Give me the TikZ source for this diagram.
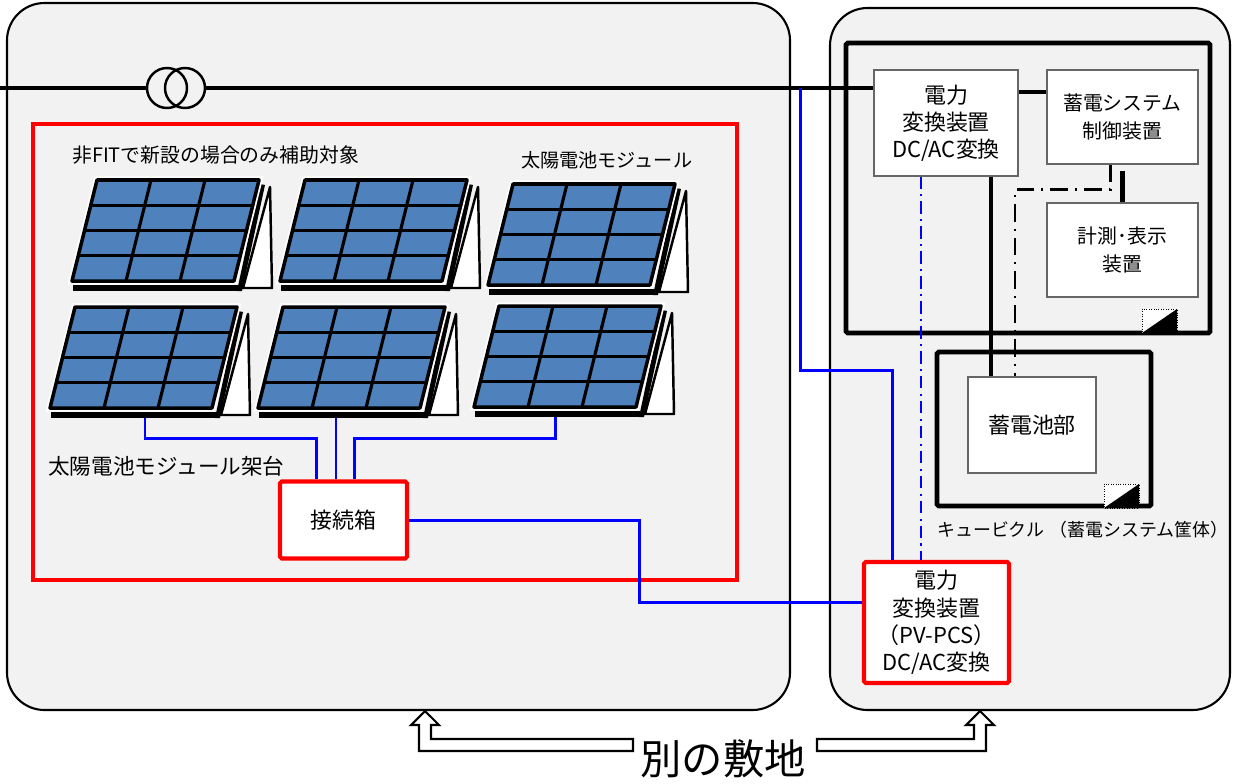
\documentclass[tikz,border=0pt]{standalone}
\usepackage{fontspec}
\setmainfont{Noto Sans CJK JP}
\usetikzlibrary{positioning,calc}
\definecolor{sitegray}{HTML}{F2F2F2}
\definecolor{cellblue}{HTML}{4F81BD}
\definecolor{wirered}{HTML}{FF0000}
\definecolor{wireblue}{HTML}{0000FF}

\tikzset{
  pvpanel/.pic={
    % frame edge and leg
    \fill (1,4) -- (166,4) -- (166,10) -- (1,10) -- cycle;
    \fill (188,-97) -- (193,-96) -- (170,10) -- (165,10) -- cycle;
    \draw[fill=white,line width=1.4pt,line join=round] (198,-94) -- (200,7) -- (171,7) -- cycle;
    % module face, 3x4 cells
    \draw[white,line width=4pt] (0,0) -- (25,-101) -- (187,-101) -- (162,0) -- cycle;
    \draw[fill=cellblue,line width=2pt,line join=round] (0,0) -- (25,-101) -- (187,-101) -- (162,0) -- cycle;
    \foreach \i in {1,2,3} \draw[line width=1.8pt] (6.25*\i,-25.25*\i) -- ++(162,0);
    \foreach \i in {1,2} \draw[line width=1.8pt] (54*\i,0) -- ++(25,-101);
  },
  site/.style={draw,fill=sitegray,line width=1.2pt,rounded corners=7.5mm},
  cubicle/.style={draw,line width=2.8pt,rounded corners=1pt},
  unitbox/.style={draw=black!60,fill=white,line width=0.6pt,align=center},
  redbox/.style={draw=wirered,fill=white,line width=2.3pt,rounded corners=1pt,align=center},
  bigtext/.style={font=\fontsize{12.5}{15.5}\selectfont},
  powerline/.style={line width=1.8pt},
  busline/.style={line width=2.6pt},
  dcline/.style={wireblue,line width=1.7pt},
  signal/.style={wireblue,line width=1.4pt,dash pattern=on 7pt off 3pt on 1.2pt off 3pt},
  ctrlline/.style={line width=1.4pt,dash pattern=on 10pt off 4pt on 1.2pt off 4pt},
  hollow/.style={draw,fill=white,line width=1.2pt,line join=miter}
}

\begin{document}
\begin{tikzpicture}[x=0.2mm,y=-0.2mm,every node/.style={font=\fontsize{11.3}{15.4}\selectfont}]
\useasboundingbox (0,0) rectangle (1239,783);

% two sites
\draw[site] (7,3) rectangle (790,710);
\draw[site] (830,8) rectangle (1230,710);

% PV area
\draw[wirered,line width=2.3pt] (33,124) rectangle (737,580);
\node[anchor=west] (subsidy) at (66,155) {非FITで新設の場合のみ補助対象};
\node[anchor=west,font=\fontsize{10.9}{14}\selectfont] (modlbl) at (515,160) {太陽電池モジュール};
\node[anchor=west,font=\fontsize{12.3}{14}\selectfont] (mountlbl) at (42,466) {太陽電池モジュール架台};

\pic at (72,281) {pvpanel};
\pic at (280,281) {pvpanel};
\pic at (488,285) {pvpanel};
\pic at (50,408) {pvpanel};
\pic at (258,408) {pvpanel};
\pic at (474,407) {pvpanel};

\node[redbox,bigtext,minimum width=25.4mm,minimum height=15.4mm] (jbox) at (343.5,520) {接続箱};
\coordinate (out4) at (145,418);
\coordinate (out5) at (336,418);
\coordinate (out6) at (555,417);
\draw[dcline] (out4) |- ($(jbox.north)+(-27,-41)$) -- ($(jbox.north)+(-27,0)$);
\draw[dcline] (out5) -- (out5 |- jbox.north);
\draw[dcline] (out6) |- ($(jbox.north)+(11,-41)$) -- ($(jbox.north)+(11,0)$);

% storage cubicle
\draw[cubicle] (846,43) rectangle (1210,333);
\draw[cubicle] (937,352) rectangle (1151,506);
\foreach \mx/\my in {1142/309,1104/484} {
  \draw[densely dotted,fill=white,line width=0.4pt] (\mx,\my) rectangle ++(35,24);
  \fill (\mx,\my+24) -- ++(35,0) -- ++(0,-24) -- cycle;
}
\node[anchor=west,font=\fontsize{10.2}{14}\selectfont] (cublbl) at (931,530) {キュービクル\hspace{0.3em}（蓄電システム筐体）};

\node[unitbox,bigtext,minimum width=28.8mm,minimum height=21.2mm] (conv) at (946,123) {電力\\変換装置\\DC/AC変換};
\node[unitbox,minimum width=30.2mm,minimum height=18.8mm] (ctrl) at (1122.5,117) {蓄電システム\\制御装置};
\node[unitbox,minimum width=30.2mm,minimum height=18.8mm] (meas) at (1122.5,250) {計測･表示\\装置};
\node[unitbox,bigtext,minimum width=25.6mm,minimum height=19.2mm] (batt) at (1032,425) {蓄電池部};
\node[redbox,bigtext,minimum width=29mm,minimum height=24.2mm] (pcs) at (936.5,622.5) {電力\\変換装置\\（PV-PCS）\\DC/AC変換};

\draw[busline] ($(conv.east)+(0,-31)$) -- ($(ctrl.west)+(0,-25)$);
\draw[busline] (meas.north) -- ++(0,-31);
\draw[powerline] ($(conv.south)+(45,0)$) -- ($(batt.north)+(-41,0)$);
\draw[ctrlline] ($(ctrl.south)+(-12,0)$) -- ++(0,25) -| ($(batt.north)+(-17,0)$);

% grid feed with transformer
\coordinate (feed) at (0,88);
\node[circle,draw,line width=1.4pt,minimum size=8mm,inner sep=0pt] (xf1) at (167,88) {};
\node[circle,draw,line width=1.4pt,minimum size=8mm,inner sep=0pt] (xf2) at (185,88) {};
\draw[powerline] (feed) -- (xf1.west);
\draw[powerline] (xf2.east) -- ($(conv.west)+(0,-35)$);
\coordinate (tap) at (800,88);

% DC wiring to PV-PCS
\draw[dcline] (jbox.east) -- ++(230,0) |- ($(pcs.west)+(0,-20)$);
\draw[dcline] ($(pcs.north)+(-44,0)$) |- ($(tap)+(0,282)$) -- (tap);
\coordinate (sig) at ($(conv.south)+(-25,0)$);
\draw[signal] (sig) -- (sig |- pcs.north);

% separate premises
\node[font=\fontsize{23.5}{26}\selectfont] (premises) at (723,759) {別の敷地};
\coordinate (lA) at (633,739);
\coordinate (rA) at (817,739);
\draw[hollow] (lA) -- ++(-202,0) -- ++(0,-14) -- ++(8,0) -- ++(-14,-14) -- ++(-14,14) -- ++(8,0) -- ++(0,26) -- ++(214,0) -- cycle;
\draw[hollow] (rA) -- ++(157,0) -- ++(0,-14) -- ++(-8,0) -- ++(14,-14) -- ++(14,14) -- ++(-8,0) -- ++(0,26) -- ++(-169,0) -- cycle;
\end{tikzpicture}
\end{document}
